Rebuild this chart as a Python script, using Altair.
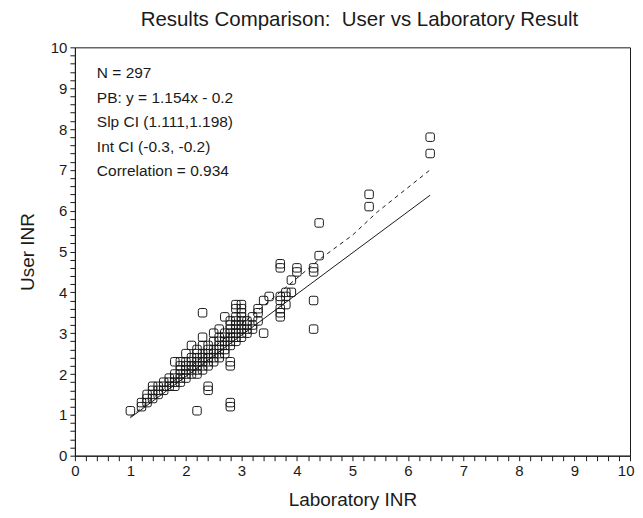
import altair as alt
import pandas as pd

# Laboratory INR (x) -> list of User INR (y) values observed at that x
lab_values = [1.0, 1.2, 1.3, 1.4, 1.5, 1.6, 1.7, 1.8, 1.9, 2.0, 2.1, 2.2, 2.3, 2.4, 2.5,
              2.6, 2.7, 2.8, 2.9, 3.0, 3.1, 3.2, 3.3, 3.4, 3.5, 3.7, 3.8, 3.9, 4.0,
              4.3, 4.4, 5.3, 6.4]
user_values = [
    [1.1],
    [1.2, 1.3],
    [1.3, 1.4, 1.5],
    [1.4, 1.5, 1.6, 1.7],
    [1.5, 1.6, 1.7],
    [1.6, 1.7, 1.8],
    [1.7, 1.8, 1.9],
    [1.7, 1.8, 1.9, 2.0, 2.3],
    [1.8, 1.9, 2.0, 2.1, 2.2, 2.3],
    [1.9, 2.0, 2.1, 2.2, 2.3, 2.5],
    [2.0, 2.1, 2.2, 2.3, 2.4, 2.7],
    [1.1, 2.0, 2.1, 2.2, 2.3, 2.4, 2.5, 2.6],
    [2.1, 2.2, 2.3, 2.4, 2.5, 2.7, 2.9, 3.5],
    [1.6, 1.7, 2.2, 2.3, 2.4, 2.5, 2.6, 2.7],
    [2.3, 2.4, 2.5, 2.6, 2.8, 3.0],
    [2.4, 2.5, 2.6, 2.7, 2.8, 2.9, 3.1],
    [2.5, 2.6, 2.7, 2.8, 2.9, 3.0, 3.4],
    [1.2, 1.3, 2.2, 2.3, 2.7, 2.8, 2.9, 3.0, 3.1, 3.2, 3.3],
    [2.8, 2.9, 3.0, 3.1, 3.2, 3.3, 3.4, 3.6, 3.7],
    [2.9, 3.0, 3.1, 3.2, 3.3, 3.4, 3.5, 3.6, 3.7],
    [3.0, 3.1, 3.2, 3.3],
    [3.1, 3.2, 3.4],
    [3.3, 3.5, 3.6],
    [3.0, 3.8],
    [3.9],
    [3.4, 3.5, 3.6, 3.8, 3.9, 4.6, 4.7],
    [3.7, 3.9, 4.0],
    [4.0, 4.3],
    [4.5, 4.6],
    [3.1, 3.8, 4.5, 4.6],
    [4.9, 5.7],
    [6.1, 6.4],
    [7.4, 7.8],
]

# Identity (solid) line and Passing-Bablok fit (dashed) line
solid_x = [1.0, 6.4]
solid_y = [0.93, 6.38]
dash_x = [1.0, 4.4, 5.0, 5.45, 6.4]
dash_y = [0.95, 4.8, 5.4, 5.97, 7.0]

stats_lines = ["N = 297", "PB: y = 1.154x - 0.2", "Slp CI (1.111,1.198)",
               "Int CI (-0.3, -0.2)", "Correlation = 0.934"]
title_text = "Results Comparison:\u00a0 User vs Laboratory Result"

xs, ys = [], []
for xv, yl in zip(lab_values, user_values):
    for yv in yl:
        xs.append(xv)
        ys.append(yv)
pts = pd.DataFrame({"lab": xs, "user": ys})
solid = pd.DataFrame({"lab": solid_x, "user": solid_y})
dashed = pd.DataFrame({"lab": dash_x, "user": dash_y})

FONT = "Liberation Sans"
ticks = [round(i * 0.2, 1) for i in range(51)]
lbl = "abs(datum.value - round(datum.value)) < 0.001 ? format(datum.value, 'd') : ''"

xscale = alt.Scale(domain=[0, 10], nice=False, zero=False)
yscale = alt.Scale(domain=[0, 10], nice=False, zero=False)

common = dict(values=ticks, labelExpr=lbl, labelOverlap=False,
              labelFlush=False, grid=False, tickSize=5, tickColor="#1a1a1a",
              domainColor="#1a1a1a", labelColor="#1a1a1a", titleColor="#1a1a1a",
              labelFont=FONT, titleFont=FONT, labelFontSize=15, titleFontSize=19,
              titleFontWeight="normal", labelPadding=3)

xaxis = alt.Axis(title="Laboratory INR", titlePadding=12,
                 labelAlign={"condition": {"test": "datum.value > 9.99", "value": "right"},
                             "value": "center"},
                 labelOffset={"condition": {"test": "datum.value > 9.99", "value": 4},
                              "value": 0},
                 **common)
yaxis = alt.Axis(title="User INR", titlePadding=13, **common)

X = alt.X("lab:Q", scale=xscale, axis=xaxis)
Y = alt.Y("user:Q", scale=yscale, axis=yaxis)

rsq = ("M -0.55 -1 L 0.55 -1 Q 1 -1 1 -0.55 L 1 0.55 Q 1 1 0.55 1 L -0.55 1 "
       "Q -1 1 -1 0.55 L -1 -0.55 Q -1 -1 -0.55 -1 Z")

points = alt.Chart(pts).mark_point(shape=rsq, filled=False, size=72, stroke="#1a1a1a",
                                   strokeWidth=1, opacity=1).encode(x=X, y=Y)
sline = alt.Chart(solid).mark_line(color="#1a1a1a", strokeWidth=1).encode(x=X, y=Y)
dline = alt.Chart(dashed).mark_line(color="#1a1a1a", strokeWidth=1,
                                    strokeDash=[4, 4]).encode(x=X, y=Y)
txt = alt.Chart(pd.DataFrame({"a": [0]})).mark_text(
    text=stats_lines, align="left", baseline="top", font=FONT, fontSize=15.5,
    lineHeight=24.5, color="#1a1a1a").encode(x=alt.value(22), y=alt.value(19))

chart = alt.layer(points, sline, dline, txt).properties(
    width=556, height=409,
    title=alt.TitleParams(title_text, font=FONT,
                          fontSize=20.5, fontWeight="normal", color="#1a1a1a",
                          anchor="middle", offset=10, dx=7),
    autosize=alt.AutoSizeParams(type="none"),
    padding={"left": 67, "top": 39, "right": 5, "bottom": 56},
).configure_view(stroke="#1a1a1a", strokeWidth=1)

chart.save("out.html", embed_options={"renderer": "svg", "actions": False})
